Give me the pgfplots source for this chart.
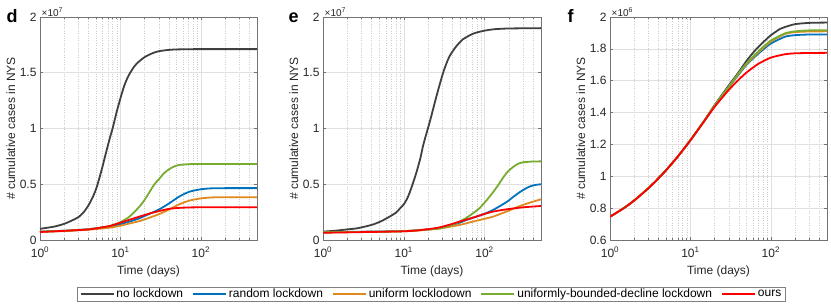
\documentclass[border=0pt]{standalone}
\usepackage{pgfplots}
\pgfplotsset{compat=1.18}
\usepackage{fontspec}
\setmainfont{Liberation Sans}
\definecolor{cblack}{HTML}{404040}
\definecolor{cblue}{HTML}{0072BD}
\definecolor{corange}{HTML}{E08A1E}
\definecolor{cgreen}{HTML}{77AC30}
\definecolor{cred}{HTML}{FF0000}
\definecolor{axgray}{HTML}{262626}
\pgfplotsset{
  legend image code/.code={\draw[#1] (0pt,0pt) -- (33pt,0pt);},
  every axis label/.append style={font=\fontsize{12}{14}\selectfont, text=axgray},
  every tick label/.append style={font=\fontsize{12}{14}\selectfont, text=axgray, inner sep=1pt},
  every x tick label/.append style={yshift=-6pt},
  every y tick label/.append style={xshift=-2.3pt},
  every axis x label/.append style={yshift=-4pt},
  every axis plot/.append style={line width=1.8pt},
  major grid style={black!12, line width=0.5pt},
  minor grid style={black!20, dotted, line width=0.4pt},
  axis line style={black!55, line width=0.6pt},
  tick style={black!55, line width=0.5pt},
}
\begin{document}
\begin{tikzpicture}
\useasboundingbox (0,0) rectangle (831pt,304pt);
% ---------------- panel d
\begin{axis}[at={(40pt,64pt)}, anchor=south west,
  scale only axis, width=217pt, height=223pt,
  xmode=log, xmin=1, xmax=500,
  xtick={1,10,100},
  xticklabels={10\textsuperscript{0},10\textsuperscript{1},10\textsuperscript{2}},
  minor xtick={2,3,4,5,6,7,8,9,20,30,40,50,60,70,80,90,200,300,400},
  xminorgrids=true, xmajorgrids=true, ymajorgrids=true,
  tick align=inside, major tick length=3pt, minor tick length=1.8pt,
  xlabel={Time (days)}, ylabel={\# cumulative cases in NYS},
  ymin=0, ymax=2, ytick={0,0.5,1,1.5,2}, yticklabels={0,0.5,1,1.5,2},
  legend columns=5,
  legend style={at={(1.804,-0.242)}, anchor=center, draw=black!50,
    font=\fontsize{12}{13}\selectfont, inner xsep=2pt, inner ysep=0pt,
    /tikz/every even column/.append style={column sep=7pt}},
]
\addplot[cblack, smooth, tension=0.4] coordinates {(1,0.10) (1.5,0.12) (2,0.145) (2.5,0.175) (3,0.205) (3.5,0.25) (4,0.31) (4.5,0.38) (5,0.46) (5.5,0.56) (6,0.66) (6.5,0.76) (7,0.85) (7.5,0.93) (8,1.0) (9,1.15) (10,1.27) (11,1.37) (12,1.44) (13,1.49) (15,1.56) (17,1.60) (20,1.64) (25,1.675) (30,1.693) (40,1.705) (50,1.709) (70,1.711) (100,1.712) (500,1.712)};
\addlegendentry{no lockdown}
\addplot[cblue, smooth, tension=0.4] coordinates {(1,0.075) (2,0.083) (3,0.09) (4.2,0.098) (7.3,0.12) (10,0.143) (13,0.165) (17.3,0.195) (23,0.235) (30.5,0.275) (40.7,0.33) (54,0.39) (72,0.433) (100,0.455) (134,0.463) (200,0.465) (500,0.465)};
\addlegendentry{random lockdown}
\addplot[corange, smooth, tension=0.4] coordinates {(1,0.072) (2,0.08) (3,0.087) (4.2,0.094) (7.3,0.11) (10,0.128) (13,0.148) (17.3,0.17) (23,0.20) (30.5,0.233) (40.7,0.275) (54,0.32) (72,0.353) (100,0.373) (140,0.382) (200,0.384) (500,0.384)};
\addlegendentry{uniform locklodown}
\addplot[cgreen, smooth, tension=0.4] coordinates {(1,0.075) (2,0.083) (3,0.09) (4.2,0.099) (5.5,0.11) (7.3,0.125) (10,0.16) (13,0.21) (17.3,0.30) (20,0.36) (23,0.43) (26.5,0.50) (30.5,0.55) (35,0.60) (40.7,0.637) (47,0.66) (54,0.673) (72,0.68) (100,0.682) (500,0.682)};
\addlegendentry{uniformly-bounded-decline lockdown}
\addplot[cred, smooth, tension=0.4] coordinates {(1,0.072) (2,0.082) (3,0.089) (4.2,0.096) (7.3,0.125) (10,0.155) (13,0.182) (17.3,0.21) (23,0.237) (30.5,0.26) (40.7,0.28) (54,0.288) (72,0.292) (100,0.293) (500,0.293)};
\addlegendentry{ours}
\end{axis}
\node[font=\fontsize{10}{12}\selectfont, text=axgray, anchor=south west, inner sep=0.5pt] at (41pt,287pt) {×10\textsuperscript{7}};
\node[font=\bfseries\fontsize{18}{18}\selectfont, anchor=base west] at (3pt,281pt) {d};
% ---------------- panel e
\begin{axis}[at={(323pt,64pt)}, anchor=south west,
  scale only axis, width=218pt, height=223pt,
  xmode=log, xmin=1, xmax=500,
  xtick={1,10,100},
  xticklabels={10\textsuperscript{0},10\textsuperscript{1},10\textsuperscript{2}},
  minor xtick={2,3,4,5,6,7,8,9,20,30,40,50,60,70,80,90,200,300,400},
  xminorgrids=true, xmajorgrids=true, ymajorgrids=true,
  tick align=inside, major tick length=3pt, minor tick length=1.8pt,
  xlabel={Time (days)}, ylabel={\# cumulative cases in NYS},
  ymin=0, ymax=2, ytick={0,0.5,1,1.5,2}, yticklabels={0,0.5,1,1.5,2}]
\addplot[cblack, smooth, tension=0.4] coordinates {(1,0.075) (1.5,0.085) (2,0.095) (2.6,0.104) (3.3,0.12) (4.2,0.14) (5.3,0.17) (6.7,0.21) (8,0.245) (8.9,0.28) (10,0.32) (11,0.37) (11.9,0.43) (13,0.51) (14.4,0.61) (16,0.73) (17.4,0.85) (19,0.95) (21,1.06) (23,1.17) (25.4,1.29) (28,1.40) (30.7,1.50) (34,1.59) (37,1.65) (41,1.70) (45,1.74) (54,1.80) (72,1.85) (96,1.875) (130,1.89) (200,1.897) (500,1.90)};
\addplot[cblue, smooth, tension=0.4] coordinates {(1,0.07) (10,0.08) (20,0.095) (28,0.105) (38,0.13) (49,0.155) (60,0.18) (72,0.20) (96,0.23) (128,0.27) (187,0.34) (230,0.39) (274,0.43) (320,0.46) (364,0.48) (420,0.493) (500,0.50)};
\addplot[corange, smooth, tension=0.4] coordinates {(1,0.068) (10,0.078) (20,0.093) (28,0.103) (49,0.135) (72,0.165) (100,0.19) (128,0.21) (187,0.255) (274,0.305) (364,0.335) (500,0.365)};
\addplot[cgreen, smooth, tension=0.4] coordinates {(1,0.07) (5,0.074) (10,0.08) (20,0.095) (28,0.105) (38,0.13) (49,0.165) (60,0.20) (72,0.24) (85,0.28) (96,0.32) (110,0.37) (128,0.43) (150,0.50) (170,0.56) (195,0.615) (226,0.655) (260,0.683) (300,0.697) (400,0.704) (500,0.705)};
\addplot[cred, smooth, tension=0.4] coordinates {(1,0.065) (10,0.078) (20,0.097) (28,0.114) (38,0.14) (49,0.165) (72,0.20) (96,0.23) (128,0.255) (187,0.275) (300,0.293) (500,0.305)};
\end{axis}
\node[font=\fontsize{10}{12}\selectfont, text=axgray, anchor=south west, inner sep=0.5pt] at (324pt,287pt) {×10\textsuperscript{7}};
\node[font=\bfseries\fontsize{18}{18}\selectfont, anchor=base west] at (285pt,281pt) {e};
% ---------------- panel f
\begin{axis}[at={(610pt,64pt)}, anchor=south west,
  scale only axis, width=217pt, height=223pt,
  xmode=log, xmin=1, xmax=500,
  xtick={1,10,100},
  xticklabels={10\textsuperscript{0},10\textsuperscript{1},10\textsuperscript{2}},
  minor xtick={2,3,4,5,6,7,8,9,20,30,40,50,60,70,80,90,200,300,400},
  xminorgrids=true, xmajorgrids=true, ymajorgrids=true,
  tick align=inside, major tick length=3pt, minor tick length=1.8pt,
  xlabel={Time (days)}, ylabel={\# cumulative cases in NYS},
  ymin=0.6, ymax=2, ytick={0.6,0.8,1,1.2,1.4,1.6,1.8,2}, yticklabels={0.6,0.8,1,1.2,1.4,1.6,1.8,2}]
\addplot[cblack, smooth, tension=0.4] coordinates {(1,0.746) (1.5,0.8015) (2,0.848) (3,0.925) (4,0.987) (5,1.039) (7,1.125) (10,1.226) (15,1.352) (20,1.447) (25,1.515) (30,1.57) (40,1.655) (50,1.725) (60,1.775) (70,1.812) (85,1.853) (100,1.885) (130,1.925) (150,1.937) (200,1.955) (300,1.963) (500,1.965)};
\addplot[cblue, smooth, tension=0.4] coordinates {(1,0.746) (1.5,0.8015) (2,0.848) (3,0.925) (4,0.987) (5,1.039) (7,1.125) (10,1.226) (15,1.35) (20,1.441) (30,1.558) (40,1.64) (50,1.70) (70,1.77) (100,1.833) (150,1.876) (200,1.886) (300,1.89) (500,1.89)};
\addplot[corange, smooth, tension=0.4] coordinates {(1,0.746) (1.5,0.8015) (2,0.848) (3,0.925) (4,0.987) (5,1.039) (7,1.125) (10,1.226) (15,1.35) (20,1.442) (30,1.56) (40,1.645) (50,1.705) (70,1.778) (100,1.845) (150,1.893) (200,1.905) (300,1.909) (500,1.91)};
\addplot[cgreen, smooth, tension=0.4] coordinates {(1,0.746) (1.5,0.8015) (2,0.848) (3,0.925) (4,0.987) (5,1.039) (7,1.125) (10,1.226) (15,1.351) (20,1.445) (30,1.562) (40,1.648) (50,1.71) (70,1.785) (100,1.852) (150,1.897) (200,1.91) (300,1.916) (500,1.917)};
\addplot[cred, smooth, tension=0.4] coordinates {(1,0.746) (1.5,0.8015) (2,0.848) (3,0.925) (4,0.987) (5,1.039) (7,1.125) (10,1.226) (15,1.349) (20,1.436) (30,1.542) (40,1.607) (50,1.652) (70,1.706) (100,1.745) (150,1.766) (200,1.772) (300,1.774) (500,1.775)};
\end{axis}
\node[font=\fontsize{10}{12}\selectfont, text=axgray, anchor=south west, inner sep=0.5pt] at (611pt,287pt) {×10\textsuperscript{6}};
\node[font=\bfseries\fontsize{18}{18}\selectfont, anchor=base west] at (564pt,281pt) {f};
\end{tikzpicture}
\end{document}
